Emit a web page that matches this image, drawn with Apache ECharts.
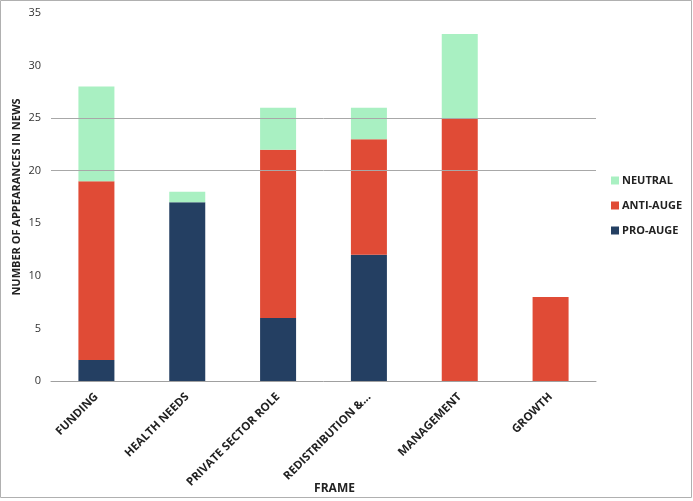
<!DOCTYPE html>
<html>
<head>
<meta charset="utf-8">
<script src="https://cdn.jsdelivr.net/npm/echarts@6/dist/echarts.min.js"></script>
<style>
    html, body { margin: 0; padding: 0; background: #fff; }
    #chart { width: 693px; height: 501px; }
</style>
</head>
<body>
<div id="chart"></div>
<script>
const frames = ['FUNDING', 'HEALTH NEEDS', 'PRIVATE SECTOR ROLE', 'REDISTRIBUTION &...', 'MANAGEMENT', 'GROWTH'];
const proAuge = [2, 17, 6, 12, 0, 0];
const antiAuge = [17, 0, 16, 11, 25, 8];
const neutral = [9, 1, 4, 3, 8, 0];
const yTicks = [0, 5, 10, 15, 20, 25, 30, 35];
const gridValues = [20, 25];

const font = '"Open Sans", "Noto Sans", sans-serif';
const chart = echarts.init(document.getElementById('chart'));

// zero values are left out so no empty segment is drawn
const clean = arr => arr.map(v => (v === 0 ? '-' : v));

chart.setOption({
    animation: false,
    textStyle: { fontFamily: font },
    grid: { left: 51, right: 97, top: 13, bottom: 120, outerBoundsMode: 'none', containLabel: false },
    graphic: [{
        type: 'rect',
        shape: { x: 0.5, y: 0.5, width: 691, height: 497 },
        style: { fill: 'none', stroke: '#b0b0b0', lineWidth: 1 },
        silent: true
    }],
    legend: {
        orient: 'vertical',
        left: 606,
        top: 170,
        itemWidth: 8,
        itemHeight: 8,
        itemGap: 14,
        icon: 'rect',
        data: ['NEUTRAL', 'ANTI-AUGE', 'PRO-AUGE'],
        textStyle: { fontFamily: font, fontSize: 11, fontWeight: 'bold', color: '#222', padding: [0, 0, 0, -2] }
    },
    xAxis: {
        type: 'category',
        data: frames,
        name: 'FRAME',
        nameLocation: 'middle',
        nameGap: 102,
        nameMoveOverlap: false,
        nameTextStyle: { fontFamily: font, fontSize: 12, fontWeight: 'bold', color: '#222', padding: [0, 0, 0, 22] },
        axisLine: { lineStyle: { color: '#a0a0a0' } },
        axisTick: { length: 5, lineStyle: { color: '#a0a0a0' } },
        axisLabel: { rotate: 45, fontSize: 11.5, fontWeight: 'bold', color: '#222', margin: 14, interval: 0 }
    },
    yAxis: {
        type: 'value',
        min: yTicks[0],
        max: yTicks[yTicks.length - 1],
        interval: 5,
        name: 'NUMBER OF APPEARANCES IN NEWS',
        nameLocation: 'middle',
        nameGap: 29,
        nameMoveOverlap: false,
        nameTextStyle: { fontFamily: font, fontSize: 11, fontWeight: 'bold', color: '#222' },
        axisLine: { show: false },
        axisTick: { show: false },
        splitLine: { show: false },
        axisLabel: { fontSize: 11, color: '#333', margin: 10 }
    },
    series: [
        {
            name: 'gridlines',
            type: 'line',
            data: [],
            z: 1,
            silent: true,
            markLine: {
                symbol: 'none',
                silent: true,
                label: { show: false },
                lineStyle: { color: '#a8a8a8', type: 'solid', width: 1 },
                data: gridValues.map(v => ({ yAxis: v }))
            }
        },
        {
            name: 'PRO-AUGE', type: 'bar', stack: 'total', barWidth: 36, z: 3,
            itemStyle: { color: '#243f62' },
            data: clean(proAuge)
        },
        {
            name: 'ANTI-AUGE', type: 'bar', stack: 'total', z: 3,
            itemStyle: { color: '#e04b36' },
            data: clean(antiAuge)
        },
        {
            name: 'NEUTRAL', type: 'bar', stack: 'total', z: 3,
            itemStyle: { color: '#a9f0c2' },
            data: clean(neutral)
        }
    ]
});
</script>
</body>
</html>
